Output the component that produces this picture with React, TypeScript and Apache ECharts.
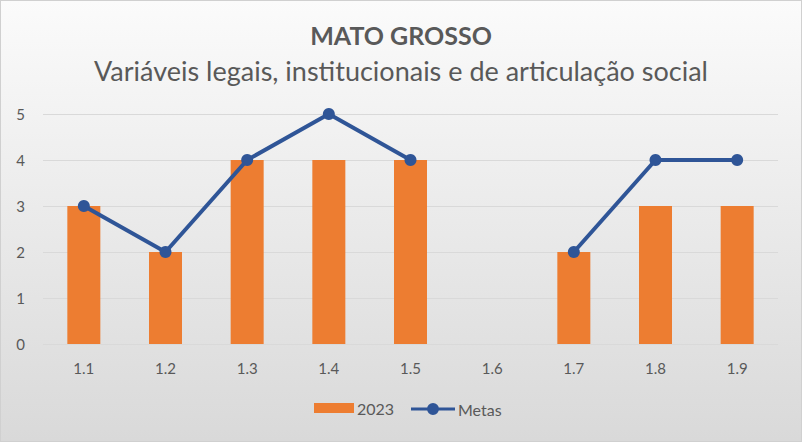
import React, { useEffect, useRef } from "react";
import * as echarts from "echarts";

const categories = ["1.1", "1.2", "1.3", "1.4", "1.5", "1.6", "1.7", "1.8", "1.9"];
const values2023: (number | null)[] = [3, 2, 4, 4, 4, null, 2, 3, 3];
const metas: (number | null)[] = [3, 2, 4, 5, 4, null, 2, 4, 4];
const yTicks = [0, 1, 2, 3, 4, 5];

const FONT = "Lato, 'Open Sans', sans-serif";
const LINE_ICON =
  "path://M0,4.5 L44,4.5 L44,7.5 L0,7.5 Z M16,6 A6,6 0 1,1 28,6 A6,6 0 1,1 16,6 Z";

export default function App() {
  const ref = useRef<HTMLDivElement>(null);
  useEffect(() => {
    if (!ref.current) return;
    const chart = echarts.init(ref.current, null, { renderer: "svg" });
    const legendText = { fontFamily: FONT, fontSize: 16, color: "#595959", padding: [0, 0, 0, -2] };
    chart.setOption({
      animation: false,
      backgroundColor: {
        type: "linear",
        x: 0,
        y: 0,
        x2: 0,
        y2: 1,
        colorStops: [
          { offset: 0, color: "#fbfbfb" },
          { offset: 1, color: "#d9d9d9" },
        ],
      },
      textStyle: { fontFamily: FONT },
      title: [
        {
          text: "MATO GROSSO",
          left: "center",
          top: 16,
          textStyle: { fontFamily: FONT, fontSize: 25, fontWeight: "bold", color: "#595959" },
        },
        {
          text: "Variáveis legais, institucionais e de articulação social",
          left: "center",
          top: 51,
          textStyle: { fontFamily: FONT, fontSize: 27, fontWeight: "normal", color: "#595959" },
        },
      ],
      legend: [
        {
          left: 308,
          bottom: 20,
          itemWidth: 40,
          itemHeight: 10,
          textStyle: legendText,
          data: [{ name: "2023", icon: "rect" }],
        },
        {
          left: 405,
          bottom: 19,
          itemWidth: 44,
          itemHeight: 12,
          textStyle: legendText,
          data: [{ name: "Metas", icon: LINE_ICON }],
        },
      ],
      grid: { left: 42, right: 23, top: 113, bottom: 97, containLabel: false },
      xAxis: {
        type: "category",
        data: categories,
        axisLine: { show: false },
        axisTick: { show: false },
        axisLabel: { fontFamily: FONT, fontSize: 15, color: "#595959", margin: 16 },
      },
      yAxis: {
        type: "value",
        min: yTicks[0],
        max: yTicks[yTicks.length - 1],
        interval: 1,
        axisLine: { show: false },
        axisTick: { show: false },
        axisLabel: { fontFamily: FONT, fontSize: 15, color: "#595959", margin: 18 },
        splitLine: { lineStyle: { color: "#d9d9d9", width: 1 } },
      },
      series: [
        {
          name: "2023",
          type: "bar",
          data: values2023,
          barWidth: 33,
          itemStyle: { color: "#ED7D31" },
        },
        {
          name: "Metas",
          type: "line",
          data: metas,
          connectNulls: false,
          symbol: "circle",
          symbolSize: 12,
          lineStyle: { color: "#2F5597", width: 4 },
          itemStyle: { color: "#2F5597" },
        },
      ],
    });
    return () => chart.dispose();
  }, []);
  return (
    <div
      ref={ref}
      style={{
        position: "fixed",
        left: 0,
        top: 0,
        width: 802,
        height: 442,
        boxSizing: "border-box",
        border: "1px solid #d0d0d0",
      }}
    />
  );
}
